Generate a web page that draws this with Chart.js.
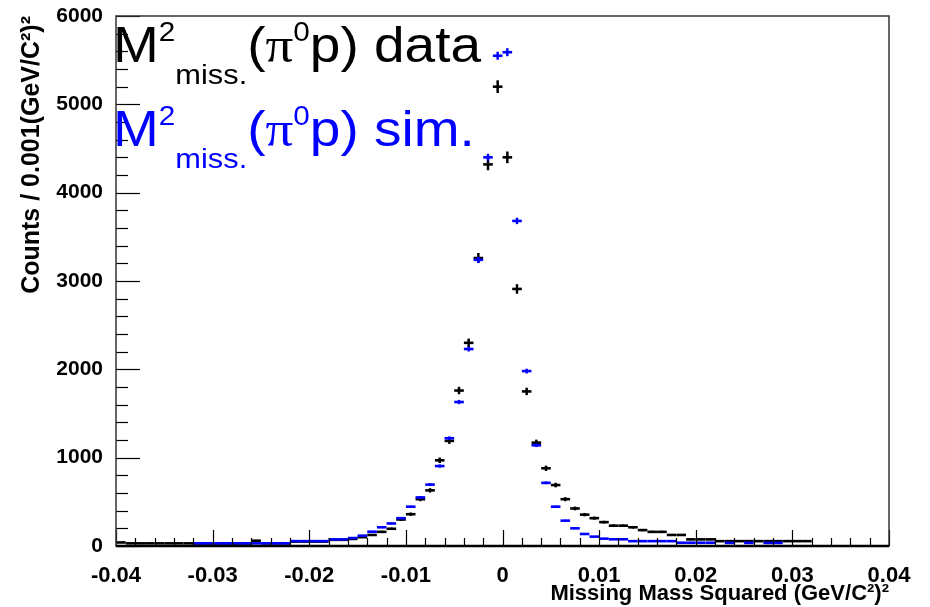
<!DOCTYPE html>
<html>
<head>
<meta charset="utf-8">
<title>Missing mass squared</title>
<script src="https://cdn.jsdelivr.net/npm/chart.js@4.4.0/dist/chart.umd.min.js"></script>
<style>
  html, body { margin: 0; padding: 0; background: #fff; }
  #wrap { width: 930px; height: 607px; }
</style>
</head>
<body>
<div id="wrap"><canvas id="chart" width="930" height="607"></canvas></div>
<script>
// histogram binning: 80 bins of 0.001 from -0.04 to 0.04
const binLow = -0.04;
const binWidth = 0.001;

// data counts per bin (null = empty bin)
const dataCounts = [
  40, 30, 30, 30, 30, 30, 30, 30, 28, 28,
  28, 28, 28, 28, 60, 30, 30, 30, 50, 50,
  50, 50, 70, 70, 80, 100, 125, 160, 195, 300,
  360, 530, 630, 970, 1190, 1760, 2300, 3260, 4320, 5200,
  4400, 2910, 1750, 1170, 880, 690, 530, 425, 355, 315,
  270, 230, 230, 212, 180, 160, 160, 125, 125, 75,
  75, 75, 55, 55, 55, 55, 55, 55, 55, 55,
  55, 55, null, null, null, null, null, null, null, null
];
const dataErrors = [
  6, 5, 5, 5, 5, 5, 5, 5, 5, 5,
  5, 5, 5, 5, 8, 5, 5, 5, 7, 7,
  7, 7, 8, 8, 9, 10, 11, 13, 14, 17,
  19, 23, 25, 31, 34, 42, 48, 57, 66, 72,
  66, 54, 42, 34, 30, 26, 23, 21, 19, 18,
  16, 15, 15, 15, 13, 13, 13, 11, 11, 9,
  9, 9, 7, 7, 7, 7, 7, 7, 7, 7,
  7, 7, 0, 0, 0, 0, 0, 0, 0, 0
];

// simulation counts per bin
const simCounts = [
  null, null, null, null, null, null, null, null, 30, 30,
  30, 30, 30, 30, 30, 30, 30, 30, 55, 55,
  55, 55, 75, 75, 90, 117, 162, 212, 255, 315,
  445, 550, 695, 905, 1220, 1630, 2230, 3240, 4400, 5550,
  5590, 3680, 1980, 1140, 715, 445, 287, 200, 136, 106,
  83, 76, 76, 55, 55, 55, 55, 55, 37, 37,
  37, 37, null, 35, null, 35, null, 35, 35, null,
  null, null, null, null, null, null, null, null, null, null
];
const simErrors = [
  0, 0, 0, 0, 0, 0, 0, 0, 3, 3,
  3, 3, 3, 3, 3, 3, 3, 3, 4, 4,
  4, 4, 5, 5, 6, 6, 8, 9, 10, 11,
  13, 14, 16, 18, 21, 24, 28, 34, 40, 45,
  45, 36, 27, 20, 16, 13, 10, 8, 7, 6,
  5, 5, 5, 4, 4, 4, 4, 4, 4, 4,
  4, 4, 0, 4, 0, 4, 0, 4, 4, 0,
  0, 0, 0, 0, 0, 0, 0, 0, 0, 0
];

const xTickLabels = ['-0.04', '-0.03', '-0.02', '-0.01', '0', '0.01', '0.02', '0.03', '0.04'];
const yTickLabels = ['0', '1000', '2000', '3000', '4000', '5000', '6000'];
const xTitle = 'Missing Mass Squared (GeV/C\u00b2)\u00b2';
const yTitle = 'Counts / 0.001(GeV/C\u00b2)\u00b2';

// legend entries: M^2_miss.(pi^0 p) ...
const legendColors = ['#000000', '#0000ff'];
const legendTails = ['p) data', 'p) sim.'];

const blue = '#0000ff';

function binCentre(i) {
  return binLow + (i + 0.5) * binWidth;
}

function markPoints(counts) {
  const pts = [];
  counts.forEach((v, i) => {
    if (v !== null) pts.push({ x: binCentre(i), y: v });
  });
  return pts;
}

function errorBars(counts, errs) {
  const bars = [];
  counts.forEach((v, i) => {
    if (v !== null) bars.push({ x: binCentre(i), y: [v - errs[i], v + errs[i]] });
  });
  return bars;
}

// ROOT style frame + inward tick marks
const rootFrame = {
  id: 'rootFrame',
  afterDatasetsDraw(chart) {
    const { ctx, chartArea: a, scales: { x, y } } = chart;
    ctx.save();
    ctx.strokeStyle = '#000';
    ctx.lineWidth = 1.2;
    for (let k = 0; k <= 40; k++) {
      const v = -0.04 + k * 0.002;
      const px = Math.round(x.getPixelForValue(v)) + 0.5;
      const len = k % 5 === 0 ? 16 : 8;
      ctx.beginPath();
      ctx.moveTo(px, a.bottom);
      ctx.lineTo(px, a.bottom - len);
      ctx.stroke();
    }
    for (let v = 0; v <= 6000; v += 200) {
      const py = Math.round(y.getPixelForValue(v)) + 0.5;
      const len = v % 1000 === 0 ? 24 : 12;
      ctx.beginPath();
      ctx.moveTo(a.left, py);
      ctx.lineTo(a.left + len, py);
      ctx.stroke();
    }
    ctx.strokeStyle = '#333';
    ctx.lineWidth = 1.5;
    ctx.strokeRect(a.left, a.top, a.right - a.left, a.bottom - a.top);
    ctx.lineWidth = 2.5;
    ctx.strokeStyle = '#000';
    ctx.beginPath();
    ctx.moveTo(a.left, a.bottom);
    ctx.lineTo(a.right, a.bottom);
    ctx.stroke();
    ctx.restore();
  }
};

// legend with super/subscripts, text slightly widened like the ROOT canvas
const rootLegend = {
  id: 'rootLegend',
  afterDraw(chart) {
    const ctx = chart.ctx;
    const sx = 1.1;
    const sans = '"Liberation Sans", Arial, sans-serif';
    const serif = '"Liberation Serif", "Times New Roman", serif';
    function piece(text, x, y, size, family) {
      ctx.save();
      ctx.translate(x, y);
      ctx.scale(sx, 1);
      ctx.font = size + 'px ' + family;
      ctx.textBaseline = 'alphabetic';
      ctx.textAlign = 'left';
      ctx.fillText(text, 0, 0);
      const w = ctx.measureText(text).width * sx;
      ctx.restore();
      return x + w;
    }
    const baselines = [62, 146];
    legendTails.forEach((tail, i) => {
      const b = baselines[i];
      ctx.fillStyle = legendColors[i];
      let x = 113;
      x = piece('M', x, b, 50, sans);
      x = piece('2', x, b - 21, 27, sans);
      x = piece('miss.', x, b + 22, 28, sans);
      x = piece('(', x, b, 50, sans);
      x = piece('\u03c0', x, b, 50, serif);
      x = piece('0', x, b - 21, 27, sans);
      piece(tail, x, b, 50, sans);
    });
  }
};

Chart.defaults.font.family = '"Liberation Sans", Arial, sans-serif';
Chart.defaults.color = '#000';

const ctx = document.getElementById('chart').getContext('2d');
new Chart(ctx, {
  type: 'bar',
  data: {
    datasets: [
      {
        type: 'line',
        label: 'sim',
        data: markPoints(simCounts),
        showLine: false,
        pointStyle: 'line',
        pointRadius: 4.8,
        pointBorderWidth: 2.6,
        pointBorderColor: blue,
        pointBackgroundColor: blue,
        order: 1
      },
      {
        type: 'bar',
        label: 'sim err',
        data: errorBars(simCounts, simErrors),
        backgroundColor: blue,
        grouped: false,
        maxBarThickness: 2.5,
        order: 2
      },
      {
        type: 'line',
        label: 'data',
        data: markPoints(dataCounts),
        showLine: false,
        pointStyle: 'line',
        pointRadius: 4.8,
        pointBorderWidth: 2.6,
        pointBorderColor: '#000',
        pointBackgroundColor: '#000',
        order: 3
      },
      {
        type: 'bar',
        label: 'data err',
        data: errorBars(dataCounts, dataErrors),
        backgroundColor: '#000',
        grouped: false,
        maxBarThickness: 2.5,
        order: 4
      }
    ]
  },
  options: {
    responsive: false,
    animation: false,
    devicePixelRatio: 1,
    events: [],
    layout: { padding: { top: 16, right: 41, left: 0, bottom: 0 } },
    plugins: {
      legend: { display: false },
      tooltip: { enabled: false }
    },
    scales: {
      x: {
        type: 'linear',
        min: -0.04,
        max: 0.04,
        offset: false,
        grid: { display: false, offset: false },
        border: { display: false },
        ticks: {
          stepSize: 0.01,
          autoSkip: false,
          maxRotation: 0,
          padding: 9,
          font: { size: 22, weight: 'bold' },
          callback: (v) => xTickLabels[Math.round((v + 0.04) * 100)]
        },
        title: {
          display: true,
          text: xTitle,
          align: 'end',
          font: { size: 22, weight: 'bold' },
          padding: { top: 0, bottom: 0 }
        },
        afterFit: (s) => {
          s.height = 61;
          s.paddingLeft = 0;
          s.paddingRight = 0;
        }
      },
      y: {
        min: 0,
        max: 6000,
        grid: { display: false },
        border: { display: false },
        ticks: {
          stepSize: 1000,
          padding: 5,
          font: { size: 21, weight: 'bold' },
          callback: (v) => yTickLabels[Math.round(v / 1000)]
        },
        title: {
          display: true,
          text: yTitle,
          align: 'end',
          font: { size: 25, weight: 'bold' },
          padding: { top: 17, bottom: 0 }
        },
        afterFit: (s) => {
          s.width = 116;
          s.paddingTop = 0;
          s.paddingBottom = 0;
        }
      }
    }
  },
  plugins: [rootFrame, rootLegend]
});
</script>
</body>
</html>
